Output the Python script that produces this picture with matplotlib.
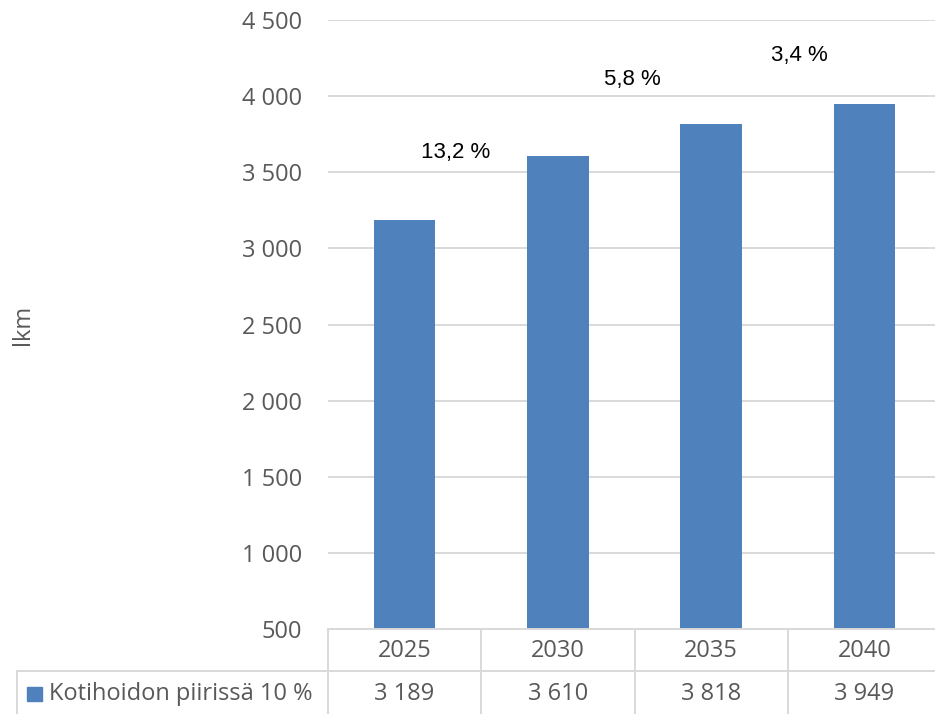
import numpy as np
import matplotlib.pyplot as plt
from matplotlib.transforms import blended_transform_factory

vuodet = ["2025", "2030", "2035", "2040"]
lkm = [3189, 3610, 3818, 3949]
sarja = "Kotihoidon piirissä 10 %"
# kasvuprosenttien paikat (x kategoria-akselilla, y arvona)
kasvu_x = [0.335, 1.483, 2.579]
kasvu_y = [3633, 4106, 4270]

sininen = "#4F81BD"
harmaa = "#595959"
viiva = "#D9D9D9"

def fmt(v):
    return "{:,}".format(int(v)).replace(",", " ")

W, H = 935, 714
fig = plt.figure(figsize=(W / 100, H / 100), dpi=100)
# kuvaaja jatkuu hieman oikean reunan yli
ax = fig.add_axes([328 / W, 1 - 629 / H, (941 - 328) / W, (629 - 20) / H])

x = np.arange(len(vuodet))
ax.bar(x, lkm, width=0.40, color=sininen, zorder=3)
ax.set_xlim(-0.5, 3.5)
ax.set_ylim(500, 4500)
ax.set_yticks(np.arange(500, 4501, 500))
ax.set_yticklabels([fmt(v) for v in np.arange(500, 4501, 500)],
                   fontsize=17, color=harmaa, family="Open Sans")
ax.tick_params(axis="y", length=0, pad=18.5)
ax.set_xticks([])
ax.grid(axis="y", color=viiva, linewidth=1.4, zorder=0)
for s in ax.spines.values():
    s.set_visible(False)

fig.text(23 / W, 1 - 325 / H, "lkm", rotation=90, ha="center", va="center",
         fontsize=17, color=harmaa, family="Open Sans")

# kasvu edelliseen viisivuotiskauteen
for i in range(1, len(lkm)):
    p = (lkm[i] / lkm[i - 1] - 1) * 100
    teksti = ("%.1f %%" % p).replace(".", ",")
    ax.text(kasvu_x[i - 1], kasvu_y[i - 1], teksti, ha="center", va="center",
            fontsize=16, color="black", family="Liberation Sans")

# taulukko kuvaajan alla
tr = blended_transform_factory(ax.transData, fig.transFigure)
y_yla = 1 - 629 / H
y_keski = 1 - 671 / H
for xv in np.arange(-0.5, 3.6, 1.0):
    ax.plot([xv, xv], [0, y_yla], color=viiva, lw=1.4, transform=tr, clip_on=False)
fig.add_artist(plt.Line2D([17 / W, 1], [y_keski, y_keski], color=viiva, lw=1.4))
fig.add_artist(plt.Line2D([17 / W, 17 / W], [0, y_keski], color=viiva, lw=1.4))
fig.add_artist(plt.Line2D([328 / W, 1], [y_yla, y_yla], color=viiva, lw=1.4))

for i, (v, n) in enumerate(zip(vuodet, lkm)):
    ax.text(i, 1 - 651 / H, v, transform=tr, ha="center", va="center",
            fontsize=17, color=harmaa, family="Open Sans")
    ax.text(i, 1 - 694 / H, fmt(n), transform=tr, ha="center", va="center",
            fontsize=17, color=harmaa, family="Open Sans")

fig.patches.append(plt.Rectangle((27 / W, 1 - 701 / H), 15 / W, 14 / H,
                                 color=sininen, transform=fig.transFigure))
fig.text(49 / W, 1 - 694 / H, sarja, ha="left", va="center",
         fontsize=17, color=harmaa, family="Open Sans")

fig.savefig("out.png", dpi=100)
